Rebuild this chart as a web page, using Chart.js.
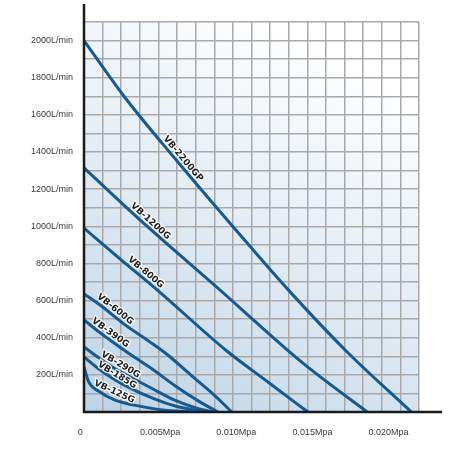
<!DOCTYPE html>
<html>
<head>
<meta charset="utf-8">
<script src="https://cdn.jsdelivr.net/npm/chart.js@4.4.1/dist/chart.umd.min.js"></script>
<style>
  html, body { margin: 0; padding: 0; background: #ffffff; }
  #wrap { width: 452px; height: 452px; }
</style>
</head>
<body>
<div id="wrap"><canvas id="pumpChart" width="452" height="452"></canvas></div>
<script>
    // pressure (MPa), flow (L/min) pairs
    const vb2200gp = [[0, 2000], [0.0026, 1703], [0.006, 1362], [0.0109, 892], [0.0134, 659], [0.0172, 330], [0.0215, 0]];
    const vb1200g = [[0, 1314], [0.0041, 1003], [0.0093, 630], [0.0109, 512], [0.0145, 255], [0.0186, 0]];
    const vb800g = [[0, 990], [0.0024, 822], [0.0048, 658], [0.0093, 334], [0.0121, 160], [0.0147, 0]];
    const vb600g = [[0, 636], [0.0012, 567], [0.0027, 469], [0.0043, 379], [0.0055, 307], [0.007, 200], [0.0085, 95], [0.0097, 0]];
    const vb390g = [[0, 496], [0.001, 430], [0.002, 370], [0.003, 312], [0.0045, 230], [0.006, 140], [0.0075, 60], [0.0088, 0]];
    const vb290g = [[0, 350], [0.001, 290], [0.002, 235], [0.003, 190], [0.0045, 125], [0.006, 62], [0.0075, 18], [0.0085, 0]];
    const vb185g = [[0, 297], [0.001, 230], [0.002, 175], [0.003, 130], [0.0045, 75], [0.006, 32], [0.008, 0]];
    const vb125g = [[0, 243], [0.0003, 164], [0.001, 110], [0.002, 65], [0.0038, 29], [0.0055, 8], [0.0074, 0]];

    const seriesNames = ['VB-2200GP', 'VB-1200G', 'VB-800G', 'VB-600G', 'VB-390G', 'VB-290G', 'VB-185G', 'VB-125G'];
    const seriesData = [vb2200gp, vb1200g, vb800g, vb600g, vb390g, vb290g, vb185g, vb125g];

    const xTicks = [0, 0.005, 0.010, 0.015, 0.020];
    const xTickLabels = ['0   ', '0.005Mpa', '0.010Mpa', '0.015Mpa', '0.020Mpa'];
    const yTicks = [200, 400, 600, 800, 1000, 1200, 1400, 1600, 1800, 2000];

    // where along each curve the name sits (MPa) and how far off the line (px)
    const labelAt = [0.0062, 0.0041, 0.0038, 0.0018, 0.0015, 0.0022, 0.0020, 0.0018];
    const labelOffset = [6, 6, 6, 6, 6, 6, 5, 7];

    const lineColor = '#175a8f';
    const gridColor = '#a9a9a9';

    function flowAt(pts, p) {
        for (let i = 1; i < pts.length; i++) {
            if (p <= pts[i][0]) {
                const t = (p - pts[i - 1][0]) / (pts[i][0] - pts[i - 1][0]);
                return pts[i - 1][1] + t * (pts[i][1] - pts[i - 1][1]);
            }
        }
        return pts[pts.length - 1][1];
    }

    const backdrop = {
        id: 'backdrop',
        beforeDraw(chart) {
            const { ctx, chartArea: a } = chart;
            const g = ctx.createLinearGradient(a.left, a.bottom, a.left + (a.right - a.left) * 0.6, a.top);
            g.addColorStop(0, '#bcd3e6');
            g.addColorStop(0.55, '#e4edf5');
            g.addColorStop(1, '#ffffff');
            ctx.save();
            ctx.fillStyle = g;
            ctx.fillRect(a.left, a.top, a.right - a.left, a.bottom - a.top);
            ctx.restore();
        }
    };

    const curveNames = {
        id: 'curveNames',
        afterDatasetsDraw(chart) {
            const { ctx } = chart;
            const xs = chart.scales.x, ys = chart.scales.y;
            ctx.save();
            ctx.font = 'bold 9px "DejaVu Sans", Verdana, sans-serif';
            ctx.textAlign = 'center';
            ctx.textBaseline = 'middle';
            seriesData.forEach((pts, i) => {
                const p = labelAt[i];
                const x0 = xs.getPixelForValue(p - 0.0005), y0 = ys.getPixelForValue(flowAt(pts, p - 0.0005));
                const x1 = xs.getPixelForValue(p + 0.0005), y1 = ys.getPixelForValue(flowAt(pts, p + 0.0005));
                const ang = Math.atan2(y1 - y0, x1 - x0);
                const d = labelOffset[i];
                const cx = xs.getPixelForValue(p) + d * Math.sin(ang);
                const cy = ys.getPixelForValue(flowAt(pts, p)) - d * Math.cos(ang);
                ctx.save();
                ctx.translate(cx, cy);
                ctx.rotate(ang);
                ctx.lineWidth = 2.5;
                ctx.strokeStyle = 'rgba(255,255,255,0.9)';
                ctx.strokeText(seriesNames[i], 0, 0);
                ctx.fillStyle = '#1e1e1e';
                ctx.fillText(seriesNames[i], 0, 0);
                ctx.restore();
            });
            ctx.restore();
        }
    };

    // black axis lines run a little past the grid
    const axisLines = {
        id: 'axisLines',
        afterDraw(chart) {
            const { ctx, chartArea: a } = chart;
            ctx.save();
            ctx.strokeStyle = '#1a1a1a';
            ctx.lineWidth = 2.5;
            ctx.beginPath();
            ctx.moveTo(a.left, a.top - 18);
            ctx.lineTo(a.left, a.bottom);
            ctx.lineTo(a.right + 23, a.bottom);
            ctx.stroke();
            ctx.restore();
        }
    };

    const ctx = document.getElementById('pumpChart').getContext('2d');
    new Chart(ctx, {
        type: 'line',
        data: {
            datasets: seriesData.map((pts, i) => ({
                label: seriesNames[i],
                data: pts.map(([x, y]) => ({ x, y })),
                borderColor: lineColor,
                borderWidth: 3,
                pointRadius: 0,
                fill: false,
                tension: 0.4,
                cubicInterpolationMode: 'monotone',
                xAxisID: 'x',
                yAxisID: 'y'
            }))
        },
        options: {
            responsive: false,
            animation: false,
            layout: { padding: { top: 22, right: 33, bottom: 0, left: 0 } },
            plugins: { legend: { display: false }, tooltip: { enabled: false } },
            scales: {
                x: {
                    type: 'linear',
                    position: 'bottom',
                    min: 0,
                    max: 0.022,
                    afterBuildTicks: s => { s.ticks = xTicks.map(v => ({ value: v })); },
                    afterFit: s => { s.height = 40; },
                    grid: { display: false },
                    border: { display: false },
                    ticks: {
                        autoSkip: false,
                        maxRotation: 0,
                        padding: 7,
                        color: '#3a3a3a',
                        font: { family: '"Liberation Sans", Arial, sans-serif', size: 9 },
                        callback: (v) => xTickLabels[xTicks.indexOf(v)]
                    }
                },
                xg: {
                    type: 'linear',
                    position: 'top',
                    min: 0,
                    max: 18,
                    afterFit: s => { s.height = 0; },
                    ticks: { display: false, stepSize: 1 },
                    grid: { color: gridColor, lineWidth: 1.5, drawTicks: false },
                    border: { display: false }
                },
                y: {
                    type: 'linear',
                    min: 0,
                    max: 2100,
                    afterFit: s => { s.width = 84; },
                    grid: { color: gridColor, lineWidth: 1.5, drawTicks: false },
                    border: { display: false },
                    ticks: {
                        stepSize: 100,
                        autoSkip: false,
                        padding: 11,
                        color: '#3a3a3a',
                        font: { family: '"Liberation Sans", Arial, sans-serif', size: 9 },
                        callback: v => yTicks.includes(v) ? v + 'L/min' : ''
                    }
                }
            }
        },
        plugins: [backdrop, curveNames, axisLines]
    });
</script>
</body>
</html>
